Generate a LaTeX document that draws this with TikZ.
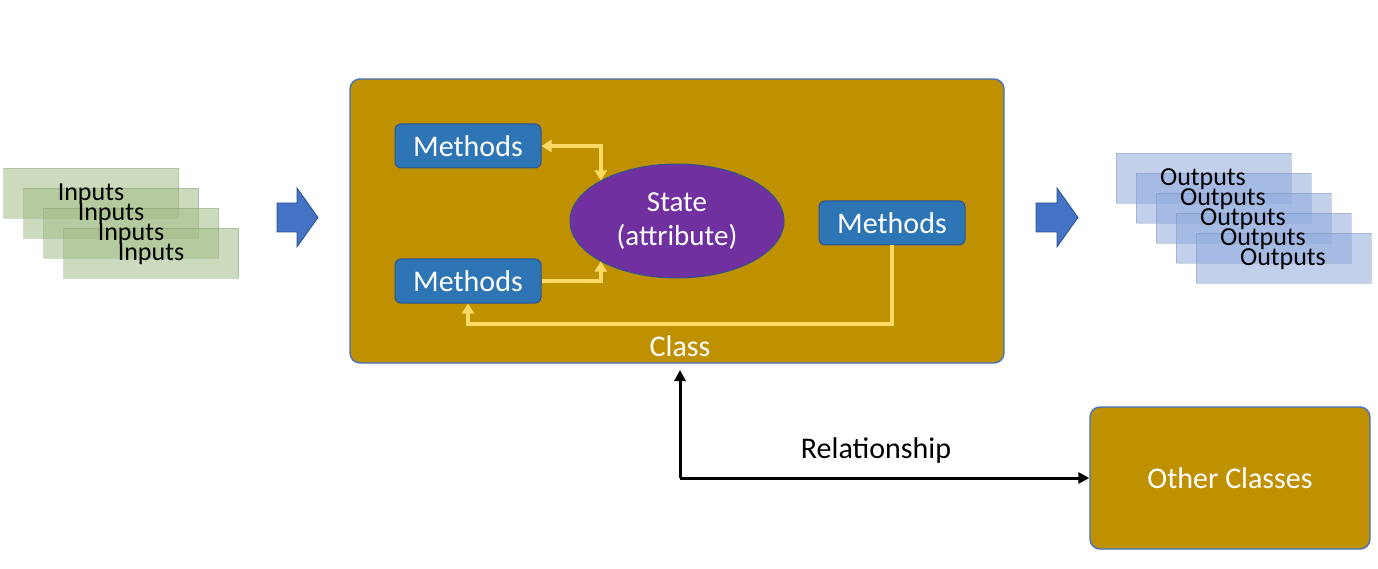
\documentclass[tikz,border=0pt]{standalone}
\usepackage{fontspec}
\setmainfont{Carlito}
\usetikzlibrary{shapes.geometric,arrows.meta}
\definecolor{gold}{HTML}{BF9000}
\definecolor{edgeblue}{HTML}{4472C4}
\definecolor{methblue}{HTML}{2E75B6}
\definecolor{methedge}{HTML}{2F528F}
\definecolor{statepurple}{HTML}{7030A0}
\definecolor{flowyellow}{HTML}{FFD966}
\definecolor{ingreen}{HTML}{A3BC88}
\definecolor{outblue}{HTML}{8FAADC}
\tikzset{
  classbox/.style={draw=edgeblue, line width=1.4pt, fill=gold, rounded corners=10pt},
  methbox/.style={draw=methedge, line width=1pt, fill=methblue, rounded corners=6pt,
     minimum width=146pt, minimum height=44pt, text=white, font=\fontsize{30}{33}\selectfont, inner sep=0pt},
  stateell/.style={ellipse, draw=methedge, line width=1pt, fill=statepurple, minimum width=214pt,
     minimum height=114pt, text=white, align=center, inner sep=0pt, font=\fontsize{29}{34}\selectfont},
  flow/.style={draw=flowyellow, line width=3.5pt, -{Triangle[length=10pt,width=12pt]}},
  inbox/.style={draw=ingreen!80!black, draw opacity=0.35, line width=0.8pt, fill=ingreen, fill opacity=0.55,
     minimum width=175pt, minimum height=50pt, inner sep=0pt},
  outbox/.style={draw=outblue!80!black, draw opacity=0.35, line width=0.8pt, fill=outblue, fill opacity=0.55,
     minimum width=175pt, minimum height=50pt, inner sep=0pt},
  boxtext/.style={text=black, inner sep=0pt, font=\fontsize{26}{28}\selectfont},
  blockarrow/.style={fill=edgeblue, draw=methedge, line width=0.8pt},
  relarrow/.style={draw=black, line width=3pt, -{Triangle[length=11pt,width=11pt]}},
  whitelbl/.style={text=white, inner sep=0pt, font=\fontsize{30}{33}\selectfont}
}
\begin{document}
\begin{tikzpicture}[x=1pt,y=-1pt]
\useasboundingbox (0,0) rectangle (1378,569);
% inputs
\foreach \i in {0,1,2,3}{
  \node[inbox] (in\i) at ({91+20*\i},{193+20*\i}) {};
}
\foreach \i in {0,1,2,3}{
  \node[boxtext] (int\i) at ({91+20*\i},{194+20*\i}) {Inputs};
}
% outputs
\foreach \i in {0,1,2,3,4}{
  \node[outbox] (out\i) at ({1203.5+20*\i},{178+20*\i}) {};
}
\foreach \i in {0,1,2,3,4}{
  \node[boxtext] (outt\i) at ({1203+20*\i},{179+20*\i}) {Outputs};
}
% block arrows
\draw[blockarrow] (277,203) -- (297,203) -- (297,188) -- (318,217.5) -- (297,247) -- (297,232) -- (277,232) -- cycle;
\draw[blockarrow] (1036,203) -- (1057,203) -- (1057,188) -- (1078,217.5) -- (1057,247) -- (1057,232) -- (1036,232) -- cycle;
% class box
\draw[classbox] (350,79) rectangle (1004,363);
\node[coordinate] (classbot) at (680,363) {};
\node[whitelbl] (classlbl) at (680,346) {Class};
% methods
\node[methbox] (mt) at (468,146) {Methods};
\node[methbox] (mb) at (468,281) {Methods};
\node[methbox] (mr) at (892,223) {Methods};
\node[stateell] (st) at (677,221) {State\\(attribute)};
% yellow flows
\draw[flow, {Triangle[length=10pt,width=12pt]}-{Triangle[length=10pt,width=12pt]}] (mt.east) -| (st.152);
\draw[flow] (mb.east) -| (st.208);
\draw[flow] (mr.south) |- (680,324) -| (mb.south);
% other classes
\node[draw=edgeblue, line width=1.4pt, fill=gold, rounded corners=10pt, minimum width=280pt, minimum height=142pt,
  text=white, inner sep=0pt, font=\fontsize{30}{33}\selectfont] (oc) at (1230,478) {Other Classes};
% relationship
\node[coordinate] (corner) at (680,478) {};
\draw[relarrow] (corner) -- ([yshift=-7pt]classbot);
\draw[relarrow] (corner) -- (oc.west);
\node[text=black, inner sep=0pt, font=\fontsize{30}{33}\selectfont] (rel) at (876,450) {Relationship};
\end{tikzpicture}
\end{document}
